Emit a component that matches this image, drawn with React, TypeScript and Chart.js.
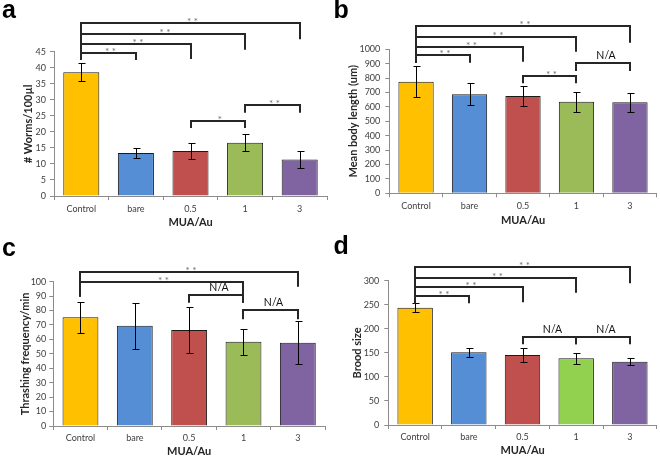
import React, { useEffect, useRef } from 'react';
import { Chart, registerables } from 'chart.js';

Chart.register(...registerables);

// ---------- data ----------
const categories = ['Control', 'bare', '0.5', '1', '3'];
const colorsABC = ['#FFC000', '#558ED5', '#C0504D', '#9BBB59', '#8064A2'];
const colorsD = ['#FFC000', '#558ED5', '#C0504D', '#92D050', '#8064A2'];

const wormsMean = [38.6, 13.4, 14.0, 16.6, 11.4];
const wormsErr = [2.75, 1.7, 2.6, 2.65, 2.75];
const lengthMean = [775, 688, 676, 636, 632];
const lengthErr = [107, 75, 67, 70, 64];
const thrashMean = [75.3, 69.5, 66.5, 58.4, 57.7];
const thrashErr = [10.7, 15.8, 16.2, 8.9, 15];
const broodMean = [244, 151, 145.5, 138.6, 131.6];
const broodErr = [9.5, 9.7, 14, 11, 7.6];

// significance brackets: [fromIndex, toIndex, level, leftDropTo, rightDropTo, label]
type Bracket = [number, number, number, number, number, string];
const wormsBrackets: Bracket[] = [
  [0, 4, 53.8, 42.4, 48.9, '**'],
  [0, 3, 50.5, 42.4, 45.6, '**'],
  [0, 2, 47.4, 42.4, 42.7, '**'],
  [0, 1, 44.7, 42.4, 42.4, '**'],
  [2, 3, 23.5, 21.2, 21.2, '*'],
  [3, 4, 28.3, 26.0, 26.0, '**'],
];
const lengthBrackets: Bracket[] = [
  [0, 4, 1162, 907, 1046, '**'],
  [0, 3, 1087, 907, 983, '**'],
  [0, 2, 1018, 907, 914, '**'],
  [0, 1, 960, 907, 907, '**'],
  [2, 3, 815, 764, 764, '**'],
  [3, 4, 903, 849, 849, 'N/A'],
];
const thrashBrackets: Bracket[] = [
  [0, 4, 106.9, 89.6, 96.5, '**'],
  [0, 3, 100, 89.6, 85.4, '**'],
  [2, 3, 90.8, 85.4, 85.4, 'N/A'],
  [3, 4, 80.4, 73.9, 73.9, 'N/A'],
];
const broodBrackets: Bracket[] = [
  [0, 4, 327.9, 253, 294.6, '**'],
  [0, 3, 306.2, 253, 275, '**'],
  [0, 2, 286.3, 253, 255, '**'],
  [0, 1, 268.2, 253, 253, '**'],
  [2, 3, 183.6, 167.8, 167.8, 'N/A'],
  [3, 4, 183.6, 167.8, 167.8, 'N/A'],
];

const xTitle = 'MUA/Au';

// ---------- panel specs ----------
interface Geom {
  padL: number; padR: number; letterTop: number; chartTop: number; chartLeft: number;
  chartBottom: number; yTitleX: number; yTickPad: number; xTickPad: number; xTitlePB: number;
}
interface Panel {
  letter: string; left: number; top: number; width: number; height: number;
  means: number[]; errs: number[]; colors: string[]; brackets: Bracket[];
  yMax: number; yStep: number; yTitle: string; geom: Geom;
}

const panels: Panel[] = [
  {
    letter: 'a', left: 0, top: 0, width: 330, height: 230,
    means: wormsMean, errs: wormsErr, colors: colorsABC, brackets: wormsBrackets,
    yMax: 45, yStep: 5, yTitle: '# Worms/100µl',
    geom: { padL: 2, padR: 3, letterTop: 0, chartTop: 51.7, chartLeft: 54, chartBottom: 196, yTitleX: 28, yTickPad: 4, xTickPad: 3.6, xTitlePB: 1.4 },
  },
  {
    letter: 'b', left: 330, top: 0, width: 330, height: 230,
    means: lengthMean, errs: lengthErr, colors: colorsABC, brackets: lengthBrackets,
    yMax: 1000, yStep: 100, yTitle: 'Mean body length (um)',
    geom: { padL: 3.5, padR: 3.3, letterTop: 0, chartTop: 49.3, chartLeft: 59.3, chartBottom: 193.3, yTitleX: 23.5, yTickPad: 5, xTickPad: 3.3, xTitlePB: 3.4 },
  },
  {
    letter: 'c', left: 0, top: 230, width: 330, height: 231,
    means: thrashMean, errs: thrashErr, colors: colorsABC, brackets: thrashBrackets,
    yMax: 100, yStep: 10, yTitle: 'Thrashing frequency/min',
    geom: { padL: 2, padR: 5, letterTop: 7.8, chartTop: 51.7, chartLeft: 53.3, chartBottom: 196, yTitleX: 25, yTickPad: 3, xTickPad: 2.9, xTitlePB: 2.7 },
  },
  {
    letter: 'd', left: 330, top: 230, width: 330, height: 231,
    means: broodMean, errs: broodErr, colors: colorsD, brackets: broodBrackets,
    yMax: 300, yStep: 50, yTitle: 'Brood size',
    geom: { padL: 3.5, padR: 3.3, letterTop: 5.8, chartTop: 50.7, chartLeft: 58.3, chartBottom: 195, yTitleX: 27.7, yTickPad: 5, xTickPad: 2.3, xTitlePB: 3.7 },
  },
];

const FONT = 'Lato, "Open Sans", sans-serif';
const LETTER_SIZE = 25;
const LETTER_LH = 0.9;
const AXIS_COLOR = '#8c8c8c';

function makeAnnotPlugin(p: Panel) {
  return {
    id: 'sigAnnot' + p.letter,
    afterDatasetsDraw(chart: any) {
      const { ctx } = chart;
      const x = chart.scales.x;
      const y = chart.scales.y;
      ctx.save();
      // error bars
      ctx.strokeStyle = '#000';
      ctx.lineWidth = 1;
      p.means.forEach((m, i) => {
        const px = Math.round(x.getPixelForValue(i)) + 0.5;
        const t = Math.round(y.getPixelForValue(m + p.errs[i])) + 0.5;
        const b = Math.round(y.getPixelForValue(m - p.errs[i])) + 0.5;
        ctx.beginPath();
        ctx.moveTo(px, t); ctx.lineTo(px, b);
        ctx.moveTo(px - 3, t); ctx.lineTo(px + 4, t);
        ctx.moveTo(px - 3, b); ctx.lineTo(px + 4, b);
        ctx.stroke();
      });
      // brackets
      p.brackets.forEach(([from, to, level, lEnd, rEnd, label]) => {
        const x1 = Math.round(x.getPixelForValue(from));
        const x2 = Math.round(x.getPixelForValue(to));
        const yl = Math.round(y.getPixelForValue(level));
        ctx.strokeStyle = '#262626';
        ctx.lineWidth = 2;
        ctx.lineJoin = 'miter';
        ctx.beginPath();
        ctx.moveTo(x1, y.getPixelForValue(lEnd));
        ctx.lineTo(x1, yl);
        ctx.lineTo(x2, yl);
        ctx.lineTo(x2, y.getPixelForValue(rEnd));
        ctx.stroke();
        ctx.textAlign = 'center';
        ctx.textBaseline = 'alphabetic';
        const mid = (x1 + x2) / 2;
        if (label === 'N/A') {
          ctx.font = `10.5px ${FONT}`;
          ctx.fillStyle = '#111';
          ctx.fillText(label, mid + 3, yl - 4);
        } else {
          ctx.font = `10px ${FONT}`;
          ctx.fillStyle = '#6e6e6e';
          ctx.fillText(label.split('').join(' '), mid + 2, yl + 1.5);
        }
      });
      ctx.restore();
    },
  };
}

function ChartPanel({ p }: { p: Panel }) {
  const ref = useRef<HTMLCanvasElement>(null);
  useEffect(() => {
    const g = p.geom;
    const letterLH = LETTER_SIZE * LETTER_LH;
    const chart = new Chart(ref.current as HTMLCanvasElement, {
      type: 'bar',
      data: {
        labels: categories,
        datasets: [
          {
            data: p.means,
            backgroundColor: p.colors,
            borderColor: '#1a1a1a',
            borderWidth: 1,
            categoryPercentage: 1,
            barPercentage: 0.66,
          },
        ],
      },
      options: {
        responsive: false,
        animation: false,
        devicePixelRatio: 1,
        layout: { padding: { left: g.padL, right: g.padR, top: 0, bottom: 0 } },
        plugins: {
          legend: { display: false },
          tooltip: { enabled: false },
          title: {
            display: true,
            text: p.letter,
            align: 'start',
            color: '#000',
            font: { family: '"Liberation Sans", Arial, sans-serif', size: LETTER_SIZE, weight: 'bold', lineHeight: LETTER_LH },
            padding: { top: g.letterTop, bottom: g.chartTop - g.letterTop - letterLH },
          },
        },
        scales: {
          x: {
            type: 'category',
            offset: true,
            grid: { display: true, offset: true, drawOnChartArea: false, drawTicks: true, tickLength: 4, color: AXIS_COLOR },
            border: { display: true, color: AXIS_COLOR, width: 1 },
            ticks: { color: '#404040', font: { family: FONT, size: 9 }, padding: g.xTickPad, maxRotation: 0 },
            title: { display: true, text: xTitle, color: '#262626', font: { family: FONT, size: 11, weight: 'bold' }, padding: { top: 0, bottom: g.xTitlePB } },
            afterFit: (s: any) => { s.height = p.height - g.chartBottom; },
          },
          y: {
            type: 'linear',
            min: 0,
            max: p.yMax,
            ticks: { stepSize: p.yStep, color: '#404040', font: { family: FONT, size: 9 }, padding: g.yTickPad, callback: (v: any) => String(v) },
            grid: { display: true, drawOnChartArea: false, drawTicks: true, tickLength: 4, color: AXIS_COLOR },
            border: { display: true, color: AXIS_COLOR, width: 1 },
            title: { display: true, text: p.yTitle, color: '#262626', font: { family: FONT, size: 11, weight: 'bold' }, padding: { top: g.yTitleX - g.padL - 6.6, bottom: 0 } },
            afterFit: (s: any) => { s.width = g.chartLeft - g.padL; },
          },
        },
      },
      plugins: [makeAnnotPlugin(p)],
    } as any);
    return () => chart.destroy();
  }, [p]);
  return (
    <canvas
      ref={ref}
      width={p.width}
      height={p.height}
      style={{ position: 'absolute', left: p.left, top: p.top, width: p.width, height: p.height, display: 'block' }}
    />
  );
}

export default function App() {
  return (
    <div style={{ position: 'fixed', left: 0, top: 0, width: 660, height: 461, background: '#fff' }}>
      {panels.map((p) => (
        <ChartPanel key={p.letter} p={p} />
      ))}
    </div>
  );
}
